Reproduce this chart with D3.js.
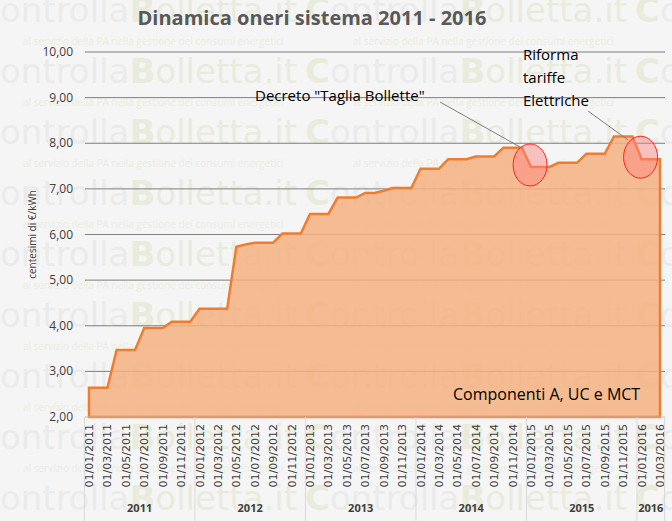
<!DOCTYPE html>
<html lang="it">
<head>
<meta charset="UTF-8">
<title>Dinamica oneri sistema 2011 - 2016</title>
<style>
  body { margin: 0; background: #f5f5f5; }
  svg { display: block; font-family: "Open Sans", "DejaVu Sans", sans-serif; }
</style>
</head>
<body>
<svg id="chart" width="672" height="521"></svg>
<script src="https://d3js.org/d3.v7.min.js"></script>
<script>
// monthly values, 01/01/2011 .. 01/03/2016 (centesimi di €/kWh)
const values = [
  2.64, 2.64, 2.64, 3.47, 3.47, 3.47, 3.95, 3.95, 3.95, 4.09, 4.09, 4.09,
  4.37, 4.37, 4.37, 4.37, 5.73, 5.78, 5.82, 5.82, 5.82, 6.02, 6.02, 6.02,
  6.45, 6.45, 6.45, 6.81, 6.81, 6.81, 6.91, 6.91, 6.96, 7.02, 7.02, 7.02,
  7.44, 7.44, 7.44, 7.65, 7.65, 7.65, 7.71, 7.71, 7.71, 7.90, 7.90, 7.90,
  7.48, 7.48, 7.48, 7.57, 7.57, 7.57, 7.77, 7.77, 7.77, 8.15, 8.15, 8.15,
  7.65, 7.65, 7.65
];
const years = [2011, 2012, 2013, 2014, 2015, 2016];
const yTicks = [2, 3, 4, 5, 6, 7, 8, 9, 10];
const highlights = [48, 60];   // months marked with red circles

const svg = d3.select("#chart");

// faint watermark in the background
const wm = svg.append("g").attr("opacity", 0.35).attr("pointer-events", "none");
for (let r = 0; r < 9; r++) {
  for (let c = 0; c < 3; c++) {
    const x = -25 + c * 330, y = 22 + r * 61;
    const t = wm.append("path"); // placeholder-free: draw text below
    const tx = wm.append("text").attr("x", x).attr("y", y).attr("font-size", 34)
      .attr("font-family", "DejaVu Sans, sans-serif");
    tx.append("tspan").attr("fill", "#d3dcae").attr("font-weight", "bold").text("C");
    tx.append("tspan").attr("fill", "#dadada").text("ontrolla");
    tx.append("tspan").attr("fill", "#d3dcae").attr("font-weight", "bold").text("B");
    tx.append("tspan").attr("fill", "#d3dcae").text("olletta.it");
    wm.append("text").attr("x", x + 48).attr("y", y + 23).attr("font-size", 10)
      .attr("fill", "#d8e0b8").text("al servizio della PA nella gestione dei consumi energetici");
  }
}

const x = d3.scaleLinear().domain([0, values.length - 1]).range([89, 660]);
const y = d3.scaleLinear().domain([2, 10]).range([417, 52]);

// grid
svg.append("g").selectAll("line").data(yTicks.filter(d => d > 2)).join("line")
  .attr("x1", 85).attr("x2", 665).attr("y1", d => y(d)).attr("y2", d => y(d))
  .attr("stroke", "#7f7f7f").attr("stroke-width", 1);

svg.append("g").selectAll("text").data(yTicks).join("text")
  .attr("x", 73).attr("y", d => y(d) + 4).attr("text-anchor", "end")
  .attr("font-size", 12).attr("fill", "#404040")
  .text(d => d3.format(".2f")(d).replace(".", ","));

svg.append("text").attr("transform", `translate(36,${y(6)}) rotate(-90)`)
  .attr("text-anchor", "middle").attr("font-size", 10).attr("fill", "#404040")
  .text("centesimi di €/kWh");

// area + line
const area = d3.area().x((d, i) => x(i)).y0(y(2)).y1(d => y(d));
svg.append("path").datum(values).attr("d", area)
  .attr("fill", "#f4b183").attr("fill-opacity", 0.85)
  .attr("stroke", "#ed7d31").attr("stroke-width", 2.5);

// x axis
const ax = svg.append("g");
ax.append("line").attr("x1", 85).attr("x2", 665).attr("y1", y(2)).attr("y2", y(2))
  .attr("stroke", "#bfbfbf");
const labelIdx = d3.range(0, values.length, 2);
ax.selectAll("text.m").data(labelIdx).join("text").attr("class", "m")
  .attr("transform", d => `translate(${x(d) + 4},${y(2) + 7}) rotate(-90)`)
  .attr("text-anchor", "end").attr("font-size", 11).attr("fill", "#404040")
  .attr("font-family", "DejaVu Sans, sans-serif")
  .text(d => {
    const m = d % 12 + 1, yr = 2011 + Math.floor(d / 12);
    return "01/" + String(m).padStart(2, "0") + "/" + yr;
  });
// year separators and labels
const sep = years.map((yr, i) => i * 12 - 0.5).concat([values.length - 0.5]);
ax.selectAll("line.sep").data(sep).join("line").attr("class", "sep")
  .attr("x1", d => x(d)).attr("x2", d => x(d)).attr("y1", y(2)).attr("y2", 521)
  .attr("stroke", "#d9d9d9");
ax.selectAll("text.yr").data(years).join("text").attr("class", "yr")
  .attr("x", (d, i) => (x(sep[i]) + x(sep[i + 1])) / 2)
  .attr("y", 512).attr("text-anchor", "middle").attr("font-size", 11)
  .attr("font-weight", "bold").attr("fill", "#404040").text(d => d);

// highlights
svg.append("g").selectAll("ellipse").data(highlights).join("ellipse")
  .attr("cx", d => x(d) - 1).attr("cy", d => y(values[d]) - 2)
  .attr("rx", 17).attr("ry", 21)
  .attr("fill", "#ff8080").attr("fill-opacity", 0.45).attr("stroke", "#ff2020").attr("stroke-width", 1);

// annotations
svg.append("line").attr("x1", 440).attr("y1", 102).attr("x2", 520).attr("y2", 147)
  .attr("stroke", "#7f7f7f");
svg.append("line").attr("x1", 588).attr("y1", 111).attr("x2", 628).attr("y2", 140)
  .attr("stroke", "#7f7f7f");
svg.append("text").attr("x", 255).attr("y", 101).attr("font-size", 15).attr("fill", "#000")
  .text('Decreto "Taglia Bollette"');
svg.append("text").attr("font-size", 15).attr("fill", "#000")
  .selectAll("tspan").data(["Riforma", "tariffe", "Elettriche"]).join("tspan")
  .attr("x", 523).attr("y", (d, i) => 60 + i * 23).text(d => d);
svg.append("text").attr("x", 453).attr("y", 400).attr("font-size", 16).attr("fill", "#000")
  .text("Componenti A, UC e MCT");

svg.append("text").attr("x", 312).attr("y", 25).attr("text-anchor", "middle")
  .attr("font-size", 20).attr("font-weight", "bold").attr("fill", "#595959")
  .text("Dinamica oneri sistema 2011 - 2016");
</script>
</body>
</html>
